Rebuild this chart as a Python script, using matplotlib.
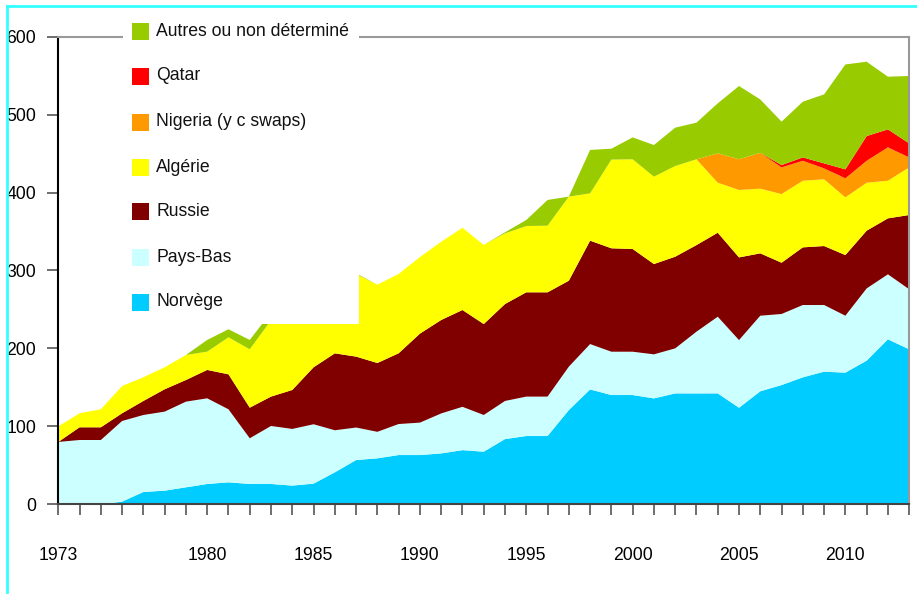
import numpy as np
import matplotlib
matplotlib.use("Agg")
import matplotlib.pyplot as plt
from matplotlib.patches import Rectangle
from matplotlib.lines import Line2D

plt.rcParams['font.family'] = ['Liberation Sans', 'DejaVu Sans']

years = list(range(1973, 2014))

# values (by layer, bottom to top)
norvege = [0, 0, 0, 3.4, 15.8, 17.5, 21.8, 26.1, 28.2, 26.1,
           26.1, 24, 26.5, 41, 56.8, 59, 63.2, 63.2, 65.3, 69.5,
           67.5, 83.7, 87.6, 87.6, 120.9, 147.4, 140.2, 140.2, 135.9, 142.3,
           142.3, 142.3, 123.9, 145, 153, 162.9, 170.2, 168.9, 184.3, 211.7, 198.9]
pays_bas = [80, 82.5, 82.5, 103.5, 98.8, 101.4, 109.9, 109.9, 93.7, 58.6,
            74.4, 72.7, 76.2, 54, 41.7, 34, 39.8, 41.6, 51.3, 55.6,
            47.1, 48.9, 50.6, 50.6, 55.7, 58.2, 55.6, 55.6, 56.5, 57.8,
            79.2, 98.4, 86.8, 97, 91.2, 92.8, 85.5, 73.1, 92.7, 83.4, 77]
russie = [0, 16.3, 16.3, 9.9, 18, 28.7, 27.8, 36.4, 44.9, 39.3,
          37.7, 50, 73.1, 98.7, 91, 88.3, 90.8, 114.2, 119.9, 124.2,
          116.7, 124.4, 133.8, 133.8, 110.3, 132.7, 132.7, 131.8, 115.9, 117.6,
          111.1, 107.8, 106.1, 80, 65.8, 74, 75.7, 77.8, 74.1, 71.8, 95.3]
algerie = [20, 18, 23.1, 35, 30.4, 28.2, 32.1, 23.5, 47.5, 74.9,
           98, 100, 80, 75, 106, 100.5, 101.8, 98.3, 100.4, 105.6,
           101.5, 90.7, 85.1, 85.5, 107.9, 60.7, 113.8, 115.1, 112.1, 116.4,
           110.1, 64.2, 86.5, 83, 88.1, 85.5, 85.6, 74.1, 61.5, 48.3, 61.1]
nigeria = [0] * 31 + [37.6, 39.4, 46, 34.2, 25.6, 14, 24.4, 28.2, 42.8, 12.8]
qatar = [0] * 34 + [3, 4.3, 6.5, 11.5, 31.7, 23.1, 18]
autres = [0, 0, 0, 0, 0, 0, 0, 15, 10.3, 12,
          10, 8, 5, 3, 1, 0, 0, 0, 0, 0,
          0, 1.3, 7.7, 33, 0, 55.7, 14, 28.1, 40.6, 49.2,
          47, 64.2, 94, 68.5, 55.7, 71.5, 88.5, 134.6, 95.4, 67.6, 86.5]

labels = ["Norvège", "Pays-Bas", "Russie", "Algérie",
          "Nigeria (y c swaps)", "Qatar", "Autres ou non déterminé"]
colors = ["#00CCFF", "#CCFFFF", "#800000", "#FFFF00", "#FF9900", "#FF0000", "#99CC00"]
shown_years = [1973, 1980, 1985, 1990, 1995, 2000, 2005, 2010]

W, H = 917, 596
fig = plt.figure(figsize=(W / 100, H / 100), dpi=100)
ax = fig.add_axes([58.3 / W, 1 - 504.3 / H, (909.2 - 58.3) / W, (504.3 - 36.7) / H])

ax.stackplot(years, norvege, pays_bas, russie, algerie, nigeria, qatar, autres,
             colors=colors, linewidth=0)

ax.set_xlim(1973, 2013)
ax.set_ylim(0, 600)
ax.set_yticks(range(0, 601, 100))
ax.set_xticks(years)
ax.set_xticklabels([str(y) if y in shown_years else "" for y in years])
ax.tick_params(axis="y", length=8, width=1.2, color="#555555", pad=8, labelsize=12.7)
ax.tick_params(axis="x", length=8, width=1.2, color="#555555", pad=23, labelsize=12.7)

ax.spines["left"].set_color("black")
ax.spines["left"].set_linewidth(1.5)
ax.spines["bottom"].set_color("#444444")
ax.spines["bottom"].set_linewidth(1.5)
ax.spines["top"].set_color("#999999")
ax.spines["top"].set_linewidth(1.5)
ax.spines["right"].set_color("#999999")
ax.spines["right"].set_linewidth(1.5)

# legend box (opaque, covers part of the plot)
fig.add_artist(Rectangle((123 / W, 1 - 324 / H), 236 / W, 304 / H,
                         transform=fig.transFigure, facecolor="white",
                         edgecolor="none", zorder=5))
row_y = [302, 257, 212, 167, 122, 76, 31]
for lab, col, yy in zip(labels, colors, row_y):
    fig.add_artist(Rectangle((132 / W, 1 - (yy + 8.5) / H), 17 / W, 17 / H,
                             transform=fig.transFigure, facecolor=col,
                             edgecolor="none", zorder=6))
    fig.text(156 / W, 1 - yy / H, lab, fontsize=12.7, va="center", ha="left",
             color="#111111", zorder=6)

# cyan frame lines
fig.add_artist(Line2D([7 / W, 7 / W], [1 - 6 / H, 1 - 592 / H],
                      transform=fig.transFigure, color="#33FFFF", lw=2))
fig.add_artist(Line2D([7 / W, 1], [1 - 6 / H, 1 - 6 / H],
                      transform=fig.transFigure, color="#33FFFF", lw=2))

fig.savefig("out.png", dpi=100)
